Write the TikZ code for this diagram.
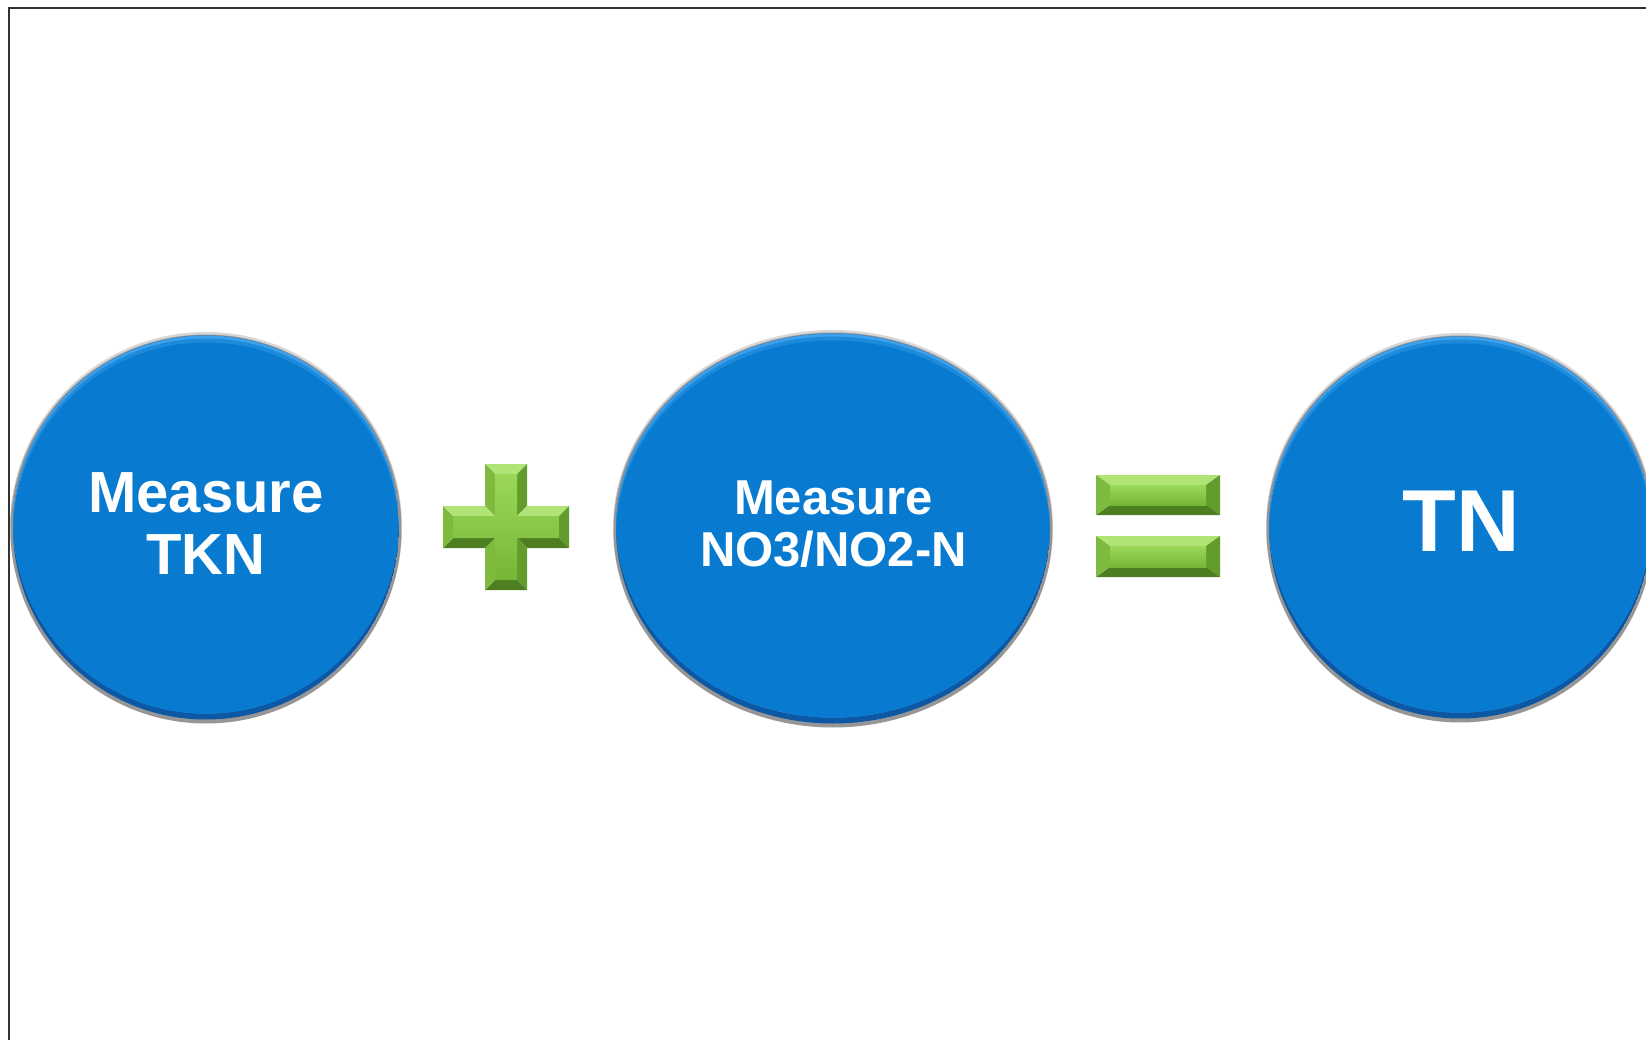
\documentclass[tikz,border=0pt]{standalone}
\usepackage{fontspec}
\setmainfont{Liberation Sans}
\definecolor{bluemain}{RGB}{8,123,208}
\definecolor{bluelight}{RGB}{60,160,236}
\definecolor{bluedark}{RGB}{12,88,165}
\definecolor{rimgray}{RGB}{150,150,150}
\definecolor{rimlight}{RGB}{215,215,215}
\definecolor{gTop}{RGB}{176,228,118}
\definecolor{gLeft}{RGB}{126,186,62}
\definecolor{gRight}{RGB}{98,156,44}
\definecolor{gBot}{RGB}{78,126,34}
\definecolor{gFaceT}{RGB}{155,216,88}
\definecolor{gFaceB}{RGB}{118,182,54}
% disc: cx cy rx ry
\newcommand\bluedisc[4]{%
  \fill[rimlight] (#1,#2-0.5) ellipse [x radius={#3pt+3pt}, y radius={#4pt+3pt}];
  \fill[rimgray] (#1,#2+1.5) ellipse [x radius={#3pt+2.5pt}, y radius={#4pt+2.5pt}];
  \begin{scope}
    \clip (#1,#2) ellipse [x radius=#3pt, y radius=#4pt];
    \fill[bluedark] (#1,#2) ellipse [x radius=#3pt, y radius=#4pt];
    \begin{scope}
      \clip (#1,#2-6) ellipse [x radius=#3pt, y radius=#4pt];
      \fill[bluelight] (#1,#2) ellipse [x radius=#3pt, y radius=#4pt];
      \fill[bluemain!60!bluelight] (#1,#2+3) ellipse [x radius=#3pt, y radius=#4pt];
      \clip (#1,#2+7) ellipse [x radius=#3pt, y radius=#4pt];
      \fill[bluemain] (#1,#2) ellipse [x radius=#3pt, y radius=#4pt];
    \end{scope}
  \end{scope}
}
% beveled rectangle: x1 y1 x2 y2 bh bv
\newcommand\bevelbar[6]{%
  \fill[gTop] (#1,#2) -- (#3,#2) -- (#3-#5,#2+#6) -- (#1+#5,#2+#6) -- cycle;
  \fill[gRight] (#3,#2) -- (#3,#4) -- (#3-#5,#4-#6) -- (#3-#5,#2+#6) -- cycle;
  \fill[gBot] (#3,#4) -- (#1,#4) -- (#1+#5,#4-#6) -- (#3-#5,#4-#6) -- cycle;
  \fill[gLeft] (#1,#4) -- (#1,#2) -- (#1+#5,#2+#6) -- (#1+#5,#4-#6) -- cycle;
  \shade[top color=gFaceT, bottom color=gFaceB] (#1+#5,#2+#6) rectangle (#3-#5,#4-#6);
}
\begin{document}
\begin{tikzpicture}[x=1pt,y=-1pt,
  txt/.style={text=white, font=\bfseries, align=center, inner sep=0pt}]
\useasboundingbox (0,0) rectangle (1646,1040);
\clip (0,0) rectangle (1646,1040);
\fill[white] (0,0) rectangle (1646,1040);
% frame
\draw[line width=2.4pt, black!80] (9,1060) -- (9,8) -- (1660,8);
% discs
\bluedisc{206}{527.5}{193}{192}
\bluedisc{833}{528.5}{217}{195}
\bluedisc{1460}{527.5}{191}{191}
% plus sign
\fill[gTop]   (485,464) -- (527,464) -- (517,474) -- (495,474) -- cycle;
\fill[gRight] (527,464) -- (527,506) -- (517,516) -- (517,474) -- cycle;
\fill[gTop]   (527,506) -- (569,506) -- (559,516) -- (517,516) -- cycle;
\fill[gRight] (569,506) -- (569,548) -- (559,538) -- (559,516) -- cycle;
\fill[gBot]   (569,548) -- (527,548) -- (517,538) -- (559,538) -- cycle;
\fill[gRight] (527,548) -- (527,590) -- (517,580) -- (517,538) -- cycle;
\fill[gBot]   (527,590) -- (485,590) -- (495,580) -- (517,580) -- cycle;
\fill[gLeft]  (485,590) -- (485,548) -- (495,538) -- (495,580) -- cycle;
\fill[gBot]   (485,548) -- (443,548) -- (453,538) -- (495,538) -- cycle;
\fill[gLeft]  (443,548) -- (443,506) -- (453,516) -- (453,538) -- cycle;
\fill[gTop]   (443,506) -- (485,506) -- (495,516) -- (453,516) -- cycle;
\fill[gLeft]  (485,506) -- (485,464) -- (495,474) -- (495,516) -- cycle;
\shade[top color=gFaceT, bottom color=gFaceB]
  (495,474) -- (517,474) -- (517,516) -- (559,516) -- (559,538) -- (517,538)
  -- (517,580) -- (495,580) -- (495,538) -- (453,538) -- (453,516) -- (495,516) -- cycle;
% equals sign
\bevelbar{1096}{475}{1220}{515}{14}{10}
\bevelbar{1096}{536}{1220}{577}{14}{10}
% texts
\node[txt, font=\bfseries\fontsize{58}{62}\selectfont] (tkn) at (206,523.5) {Measure\\TKN};
\node[txt, font=\bfseries\fontsize{49}{52}\selectfont] (no3) at (833.5,524) {Measure\\NO3/NO2-N};
\node[txt, font=\bfseries\fontsize{88}{90}\selectfont] (tn) at (1461,521) {TN};
\end{tikzpicture}
\end{document}
